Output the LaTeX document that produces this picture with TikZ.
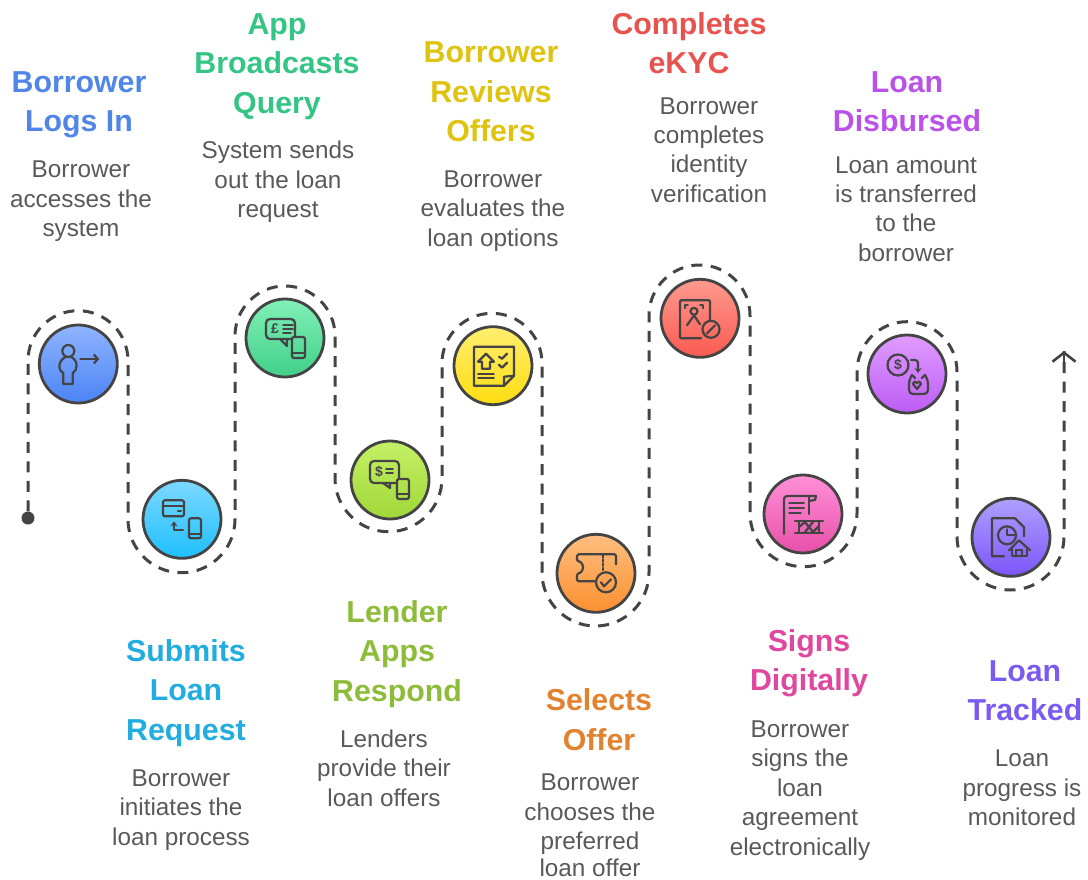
\documentclass[tikz,border=0pt]{standalone}
\usepackage{fontspec}
\setmainfont{Liberation Sans}
\usetikzlibrary{arrows.meta}

\definecolor{ink}{HTML}{444444}
\definecolor{bodyc}{HTML}{595959}
\definecolor{top1}{HTML}{8FB4FF} \definecolor{bot1}{HTML}{4C84F5} \definecolor{head1}{HTML}{4F86E8}
\definecolor{top2}{HTML}{7DD8FF} \definecolor{bot2}{HTML}{1EC0FF} \definecolor{head2}{HTML}{21ADDF}
\definecolor{top3}{HTML}{82F0B8} \definecolor{bot3}{HTML}{41D088} \definecolor{head3}{HTML}{34C585}
\definecolor{top4}{HTML}{C4F066} \definecolor{bot4}{HTML}{A0D838} \definecolor{head4}{HTML}{8DBC3A}
\definecolor{top5}{HTML}{FFEE70} \definecolor{bot5}{HTML}{FFDD10} \definecolor{head5}{HTML}{DFC30F}
\definecolor{top6}{HTML}{FFBE80} \definecolor{bot6}{HTML}{FB9030} \definecolor{head6}{HTML}{E2822F}
\definecolor{top7}{HTML}{FF9A90} \definecolor{bot7}{HTML}{FA5A50} \definecolor{head7}{HTML}{E8534F}
\definecolor{top8}{HTML}{FF90D8} \definecolor{bot8}{HTML}{E850A8} \definecolor{head8}{HTML}{E0479E}
\definecolor{top9}{HTML}{E09CFF} \definecolor{bot9}{HTML}{BC5CF5} \definecolor{head9}{HTML}{B952E8}
\definecolor{top10}{HTML}{AFA0FF} \definecolor{bot10}{HTML}{7B55F8} \definecolor{head10}{HTML}{7A5AF0}

\tikzset{
	title/.style={font=\fontsize{30.3}{39.4}\selectfont\bfseries, align=center, inner sep=0pt, text=head#1},
	body/.style={font=\fontsize{24.3}{29.4}\selectfont, text=bodyc, align=center, inner sep=0pt},
	stop/.style={circle, draw=ink, line width=2.8pt, minimum size=78pt, inner sep=0pt, top color=top#1, bottom color=bot#1},
	trail/.style={draw=ink, line width=3pt, dash pattern=on 11pt off 8.5pt},
	icon/.style={draw=ink, line width=2.2pt, line join=round, line cap=round},
	glyph/.style={text=ink, inner sep=0pt, font=\fontsize{#1}{#1}\selectfont\bfseries}
}

\begin{document}
\begin{tikzpicture}[x=1pt, y=-1pt]
	\useasboundingbox (0,0) rectangle (1088,879);

	% Nodes {c1, c2, c3, etc}
	\node [stop=1] (c1) at (78.3,364) {};
	\node [stop=2] (c2) at (182,519.3) {};
	\node [stop=3] (c3) at (285,338) {};
	\node [stop=4] (c4) at (390,480) {};
	\node [stop=5] (c5) at (493,365.7) {};
	\node [stop=6] (c6) at (596,573.3) {};
	\node [stop=7] (c7) at (700,318.3) {};
	\node [stop=8] (c8) at (803,514) {};
	\node [stop=9] (c9) at (907,374) {};
	\node [stop=10] (c10) at (1011,537.3) {};

	\node [circle, fill=ink, minimum size=13pt, inner sep=0pt] (start) at (28,518) {};
	\coordinate (finish) at (1064,351);

	% Paths
	\path [trail] (start) -- (28,360.7) arc [start angle=180, end angle=360, radius=50]
		-- (128,519.2) arc [start angle=180, end angle=0, radius=53.5]
		-- (235,336) arc [start angle=180, end angle=360, radius=50]
		-- (335,478.2) arc [start angle=180, end angle=0, radius=53.5]
		-- (442,363.3) arc [start angle=180, end angle=360, radius=50]
		-- (542,572.5) arc [start angle=180, end angle=0, radius=53.5]
		-- (649,315.5) arc [start angle=180, end angle=360, radius=50.5]
		-- (750,513.2) arc [start angle=180, end angle=0, radius=53.5]
		-- (857,371.7) arc [start angle=180, end angle=360, radius=50]
		-- (957,536.5) arc [start angle=180, end angle=0, radius=53.5]
		-- (finish);
	\draw [ink, line width=2.6pt, -{Straight Barb[length=9pt,width=23pt]}] (1064,362) -- (finish);

	% Titles and their text
	\node [title=1] (t1) at (79,105) {Borrower\\Logs In};
	\node [body] (b1) at (81,201.5) {Borrower\\accesses the\\system};
	\node [title=2] (t2) at (186,693) {Submits\\Loan\\Request};
	\node [body] (b2) at (181,810) {Borrower\\initiates the\\loan process};
	\node [title=3] (t3) at (277,66.5) {App\\Broadcasts\\Query};
	\node [body] (b3) at (278,182) {System sends\\out the loan\\request};
	\node [title=4] (t4) at (397,654) {Lender\\Apps\\Respond};
	\node [body] (b4) at (384,768) {Lenders\\provide their\\loan offers};
	\node [title=5] (t5) at (491,92) {Borrower\\Reviews\\Offers};
	\node [body] (b5) at (493,211) {Borrower\\evaluates the\\loan options};
	\node [title=6] (t6) at (599,719.5) {Selects\\Offer};
	\node [body] (b6) at (590,825.5) {Borrower\\chooses the\\preferred\\[-2pt]loan offer};
	\node [title=7] (t7) at (689,43) {Completes\\eKYC};
	\node [body] (b7) at (709,150) {Borrower\\completes\\identity\\verification};
	\node [title=8] (t8) at (809,663) {Signs\\Digitally};
	\node [body] (b8) at (800,790.5) {Borrower\\signs the\\loan\\agreement\\electronically};
	\node [title=9] (t9) at (907,102) {Loan\\Disbursed};
	\node [body] (b9) at (906,209) {Loan amount\\is transferred\\to the\\borrower};
	\node [title=10] (t10) at (1025,691) {Loan\\Tracked};
	\node [body] (b10) at (1022,788) {Loan\\progress is\\monitored};

	% Icons
	\begin{scope} [shift={(c1.center)}]
		\draw [icon] (-10,-13) circle [radius=6];
		\draw [icon] (-12,-7.5) .. controls (-20,-4) and (-21,6) .. (-15,9) -- (-15,20) -- (-5.5,20) -- (-5.5,9) .. controls (0,6) and (0,-4) .. (-8,-7.5);
		\draw [icon, -{Straight Barb[length=4pt,width=9pt]}] (2,-5) -- (21,-5);
	\end{scope}
	\begin{scope} [shift={(c2.center)}]
		\draw [icon, rounded corners=2pt] (-19,-19) rectangle (2,-3);
		\draw [icon] (-19,-13) -- (2,-13) (-4,-8) -- (-1,-8);
		\draw [icon, rounded corners=2pt] (7,-1) rectangle (19,19);
		\draw [icon] (7,15) -- (19,15);
		\draw [icon, -{Stealth[length=5pt,width=7pt]}] (1,11) -- (-8,11) -- (-8,2);
	\end{scope}
	\begin{scope} [shift={(c3.center)}]
		\draw [icon, rounded corners=4pt] (7,1) -- (-19,1) -- (-19,-19) -- (10,-19) -- (10,-2);
		\draw [icon] (-5,1) -- (2,8) -- (2,1);
		\node [glyph=14] (pound) at (-10,-9) {£};
		\draw [icon, line width=1.7pt] (-2,-13) -- (8,-13) (-2,-9) -- (8,-9) (-2,-5) -- (6,-5);
		\draw [icon, rounded corners=2pt] (7,-1) rectangle (20,20);
		\draw [icon] (7,15) -- (20,15);
	\end{scope}
	\begin{scope} [shift={(c4.center)}]
		\draw [icon, rounded corners=4pt] (7,3) -- (-20,3) -- (-20,-19) -- (9,-19) -- (9,-2);
		\draw [icon] (-7,3) -- (0,8) -- (0,3);
		\node [glyph=14] (dollar) at (-11,-8) {\$};
		\draw [icon, line width=1.7pt] (-4,-11) -- (3,-11) (-4,-7) -- (3,-7);
		\draw [icon, rounded corners=2pt] (7,-1) rectangle (19,19);
		\draw [icon] (7,14) -- (19,14);
	\end{scope}
	\begin{scope} [shift={(c5.center)}]
		\draw [icon] (-19,-19) -- (21,-19) -- (21,10) -- (11,20) -- (-19,20) -- cycle;
		\draw [icon] (11,20) -- (11,11) -- (21,10);
		\draw [icon] (-15,-4) -- (-7,-12) -- (1,-4) -- (-3,-4) -- (-3,3) -- (-11,3) -- (-11,-4) -- cycle;
		\draw [icon, line width=1.7pt] (-15,8) -- (1,8) (-15,12) -- (1,12);
		\draw [icon] (6,-9) -- (9,-7) -- (14,-12) (6,-1) -- (9,2) -- (14,-3);
	\end{scope}
	\begin{scope} [shift={(c6.center)}]
		\draw [icon, rounded corners=1.5pt] (20,-9) -- (20,-19) -- (-19,-19) -- (-19,-12) arc [start angle=-90, end angle=90, radius=6] -- (-19,8) -- (-1,8);
		\draw [icon, dotted] (7,-18) -- (7,-3);
		\draw [icon] (10,9) circle [radius=10];
		\draw [icon] (5,9) -- (8,13) -- (15,6);
	\end{scope}
	\begin{scope} [shift={(c7.center)}]
		\draw [icon, rounded corners=1pt] (10,1) -- (10,-18) -- (-20,-18) -- (-20,20) -- (1,20);
		\draw [icon] (11,11) circle [radius=8.5];
		\draw [icon] (7,15) -- (15,7);
		\draw [icon] (-6,-7) circle [radius=3.5];
		\draw [icon] (-6,-3) -- (-13,7) (-6,-3) -- (0,6);
		\draw [icon, line width=1.7pt] (-15,-10) -- (-15,-13) -- (-12,-13) (0,-13) -- (3,-13) -- (3,-10);
	\end{scope}
	\begin{scope} [shift={(c8.center)}]
		\draw [icon] (-19,20) -- (-19,-14) .. controls (-19,-18) and (-17,-18) .. (-14,-18) -- (13,-18) -- (12,-14) -- (6,-13);
		\draw [icon] (6,-17) -- (6,0);
		\draw [icon, line width=1.7pt] (-14,-11) -- (1,-11) (-14,-6) -- (1,-6) (-14,-1) -- (-2,-1);
		\draw [icon] (-8,7) -- (20,7) (-8,19) -- (20,19) (-4,7) -- (-4,19) (16,7) -- (16,19);
		\draw [icon] (-4,13) -- (2,8) -- (10,18) -- (16,12) (2,18) -- (10,8);
	\end{scope}
	\begin{scope} [shift={(c9.center)}]
		\draw [icon] (-9,-9) circle [radius=10.5];
		\node [glyph=14] (coin) at (-9,-9) {\$};
		\draw [icon, rounded corners=3pt, -{Stealth[length=5pt,width=7pt]}] (4,-14) -- (11,-14) -- (11,-1);
		\draw [icon, rounded corners=4pt] (5,1) -- (2,6) -- (2,20) -- (21,20) -- (21,6) -- (18,1);
		\draw [icon] (5,1) -- (8,4) (18,1) -- (15,4);
		\draw [icon] (10,15) -- (6,10) .. controls (7,7) and (9,7) .. (10,9) .. controls (11,7) and (13,7) .. (14,10) -- cycle;
	\end{scope}
	\begin{scope} [shift={(c10.center)}]
		\draw [icon] (13,-1) -- (13,-10) -- (4,-19) -- (-19,-19) -- (-19,19) -- (-7,19);
		\draw [icon] (-4,-2) circle [radius=9];
		\draw [icon] (-4,-8) -- (-4,-2) -- (3,-2);
		\draw [icon] (-2,13) -- (8,3) -- (19,13);
		\draw [icon] (1,11) -- (1,19) -- (16,19) -- (16,11);
		\draw [icon] (5,19) -- (5,13) -- (11,13) -- (11,19);
	\end{scope}
\end{tikzpicture}
\end{document}
